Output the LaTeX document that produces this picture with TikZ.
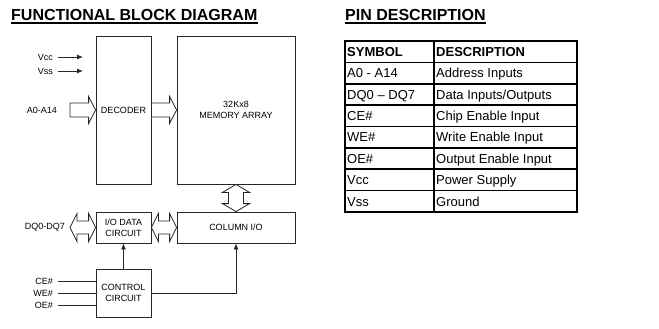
\documentclass[tikz,border=0pt]{standalone}
\usepackage{fontspec}
\setmainfont{Liberation Sans}
\usetikzlibrary{arrows.meta,calc}

\tikzset{
  blk/.style={draw=black!85,line width=0.8pt,minimum width=55pt,minimum height=31pt,
    inner sep=1pt,align=center,font=\fontsize{9}{10.8}\selectfont},
  sig/.style={draw=black!85,line width=0.8pt},
  sigarr/.style={sig,-{Latex[length=6pt,width=5pt]}},
  bus/.style={draw=black!85,line width=0.8pt,fill=white,line join=miter},
  lbl/.style={font=\fontsize{9}{10.8}\selectfont,inner sep=1pt},
  ttl/.style={font=\fontsize{16}{18}\selectfont\bfseries,inner sep=0pt,anchor=base west},
  cell/.style={font=\fontsize{13}{15}\selectfont,inner sep=0pt,anchor=base west},
  tab/.style={line width=1.7pt,black},
}

% hollow bus arrows (start point, end point)
\newcommand{\busright}[2]{%
  \draw[bus] let \p1=(#1), \p2=(#2) in
    (\x1,\y1+7pt) -- (\x2-7pt,\y1+7pt) -- (\x2-7pt,\y1+13.5pt) -- (\x2,\y1)
    -- (\x2-7pt,\y1-13.5pt) -- (\x2-7pt,\y1-7pt) -- (\x1,\y1-7pt) -- cycle;}
\newcommand{\busboth}[2]{%
  \draw[bus] let \p1=(#1), \p2=(#2) in
    (\x1,\y1) -- (\x1+7pt,\y1+14pt) -- (\x1+7pt,\y1+6.5pt) -- (\x2-7pt,\y1+6.5pt)
    -- (\x2-7pt,\y1+14pt) -- (\x2,\y1) -- (\x2-7pt,\y1-14pt) -- (\x2-7pt,\y1-6.5pt)
    -- (\x1+7pt,\y1-6.5pt) -- (\x1+7pt,\y1-14pt) -- cycle;}
\newcommand{\busvert}[2]{%
  \draw[bus] let \p1=(#1), \p2=(#2) in
    (\x1,\y1) -- (\x1+13.5pt,\y1-8pt) -- (\x1+7.5pt,\y1-8pt) -- (\x1+7.5pt,\y2+8pt)
    -- (\x1+13.5pt,\y2+8pt) -- (\x1,\y2) -- (\x1-13.5pt,\y2+8pt) -- (\x1-7.5pt,\y2+8pt)
    -- (\x1-7.5pt,\y1-8pt) -- (\x1-13.5pt,\y1-8pt) -- cycle;}

\begin{document}
\begin{tikzpicture}[x=1pt,y=-1pt]
  \useasboundingbox (0,0) rectangle (659,329);
  % titles
  \node[ttl] (fbd) at (11,21) {FUNCTIONAL BLOCK DIAGRAM};
  \draw[line width=1.3pt] ([yshift=-2pt]fbd.base west) -- ([yshift=-2pt]fbd.base east);
  \node[ttl] (pin) at (345,21) {PIN DESCRIPTION};
  \draw[line width=1.3pt] ([yshift=-2pt]pin.base west) -- ([yshift=-2pt]pin.base east);

  % blocks
  \node[blk,minimum height=148pt] (dec) at (123.5,110) {DECODER};
  \node[blk,minimum width=118pt,minimum height=148pt] (mem) at (236,110) {32Kx8\\MEMORY ARRAY};
  \node[blk] (io) at (123.5,227.5) {I/O DATA\\CIRCUIT};
  \node[blk,minimum width=118pt] (col) at (236,227.5) {COLUMN I/O};
  \node[blk,minimum height=48pt] (ctrl) at (123.5,293) {CONTROL\\CIRCUIT};

  % power pins
  \coordinate (vcc) at (58,57);
  \coordinate (vss) at (58,71);
  \node[lbl,anchor=east] (vcclbl) at (54,57) {Vcc};
  \node[lbl,anchor=east] (vsslbl) at (54,71) {Vss};
  \draw[sigarr] (vcc) -- ++(25,0) coordinate (vccend);
  \draw[sigarr] (vss) -- ++(25,0) coordinate (vssend);

  % address bus
  \coordinate (addr) at (70,110);
  \node[lbl,anchor=east] (addrlbl) at (58,110) {A0-A14};
  \busright{addr}{dec.west}
  \busright{dec.east}{mem.west}

  % data buses
  \coordinate (dq) at (70,227.5);
  \node[lbl,anchor=east] (dqlbl) at (66,227.5) {DQ0-DQ7};
  \busboth{dq}{io.west}
  \busboth{io.east}{col.west}
  \busvert{mem.south}{col.north}

  % control pins
  \foreach \nm/\y in {CE/281,WE/293,OE/305} {
    \coordinate (\nm) at (58,\y);
    \node[lbl,anchor=east] at (54,\y) {\nm\#};
    \draw[sig] (\nm) -- (\nm -| ctrl.west);
  }
  \draw[sigarr] (ctrl.north) -- (io.south);
  \draw[sigarr] (ctrl.east) -- (ctrl.east -| col.south) -- (col.south);

  % pin table
  \draw[tab] (345,41) rectangle (577,212);
  \draw[tab] (434,41) -- (434,212);
  \foreach \i in {1,...,7}
    \draw[tab] (345,41+21.375*\i) -- (577,41+21.375*\i);
  \node[cell,font=\fontsize{13}{15}\selectfont\bfseries] at (347,56.4) {SYMBOL};
  \node[cell,font=\fontsize{13}{15}\selectfont\bfseries] at (436,56.4) {DESCRIPTION};
  \foreach \sym/\dsc [count=\i] in {{A0 - A14}/{Address Inputs},{DQ0 -- DQ7}/{Data Inputs/Outputs},
      {CE\#}/{Chip Enable Input},{WE\#}/{Write Enable Input},{OE\#}/{Output Enable Input},
      {Vcc}/{Power Supply},{Vss}/{Ground}} {
    \node[cell] at (347,56.4+21.375*\i) {\sym};
    \node[cell] at (436,56.4+21.375*\i) {\dsc};
  }
\end{tikzpicture}
\end{document}
